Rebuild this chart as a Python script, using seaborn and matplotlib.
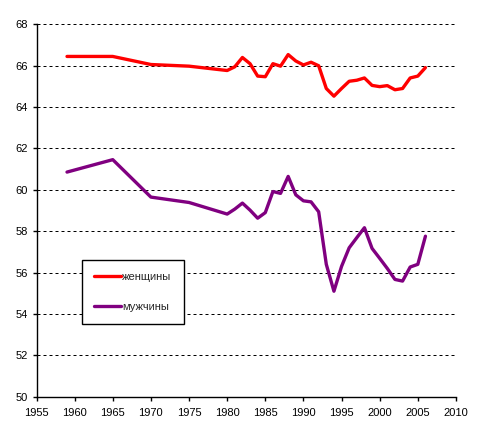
import matplotlib
matplotlib.use("Agg")
import matplotlib.pyplot as plt
import seaborn as sns
import pandas as pd

# years with data (sparse before 1980, yearly after)
years = [1959, 1965, 1970, 1975, 1980, 1981, 1982, 1983, 1984, 1985,
         1986, 1987, 1988, 1989, 1990, 1991, 1992, 1993, 1994, 1995,
         1996, 1997, 1998, 1999, 2000, 2001, 2002, 2003, 2004, 2005, 2006]

women = [66.45, 66.45, 66.06, 65.98, 65.77, 65.95, 66.40, 66.10, 65.50, 65.47,
         66.10, 65.98, 66.54, 66.23, 66.04, 66.17, 66.00, 64.90, 64.53, 64.90,
         65.25, 65.30, 65.41, 65.05, 64.99, 65.04, 64.84, 64.90, 65.41, 65.50, 65.91]

men = [60.86, 61.46, 59.65, 59.39, 58.83, 59.07, 59.36, 59.02, 58.63, 58.90,
       59.92, 59.83, 60.65, 59.76, 59.47, 59.42, 58.94, 56.40, 55.10, 56.30,
       57.20, 57.69, 58.17, 57.17, 56.69, 56.20, 55.67, 55.59, 56.27, 56.40, 57.76]

labels = ["женщины", "мужчины"]
colors = ["#FF0000", "#800080"]

df = pd.concat([
    pd.DataFrame({"year": years, "value": women, "sex": labels[0]}),
    pd.DataFrame({"year": years, "value": men, "sex": labels[1]}),
])

sns.set_style("white")
plt.rcParams['font.family'] = ['Liberation Sans', 'DejaVu Sans']

fig = plt.figure(figsize=(4.9, 4.37), dpi=100)
ax = fig.add_axes([0.0745, 0.0922, 0.856, 0.852])

sns.lineplot(data=df, x="year", y="value", hue="sex",
             palette=dict(zip(labels, colors)), linewidth=2.4, ax=ax)

ax.set_xlim(1955, 2010)
ax.set_ylim(50, 68)
ax.set_xticks(range(1955, 2011, 5))
ax.set_yticks(range(50, 69, 2))
ax.set_xlabel("")
ax.set_ylabel("")

ax.yaxis.grid(True, linestyle=(0, (3, 3)), color="black", linewidth=0.72)
ax.xaxis.grid(False)
ax.set_axisbelow(True)

for s in ["top", "right"]:
    ax.spines[s].set_visible(False)
for s in ["left", "bottom"]:
    ax.spines[s].set_color("black")
    ax.spines[s].set_linewidth(1.0)

ax.tick_params(axis="both", direction="out", length=3, width=1.0,
               color="black", labelsize=8, labelcolor="black",
               bottom=True, left=True, pad=3)
ax.tick_params(axis="x", pad=5)

leg = ax.legend(loc="lower left", bbox_to_anchor=(0.109, 0.195),
                fontsize=8, frameon=True, fancybox=False, framealpha=1,
                edgecolor="black", borderpad=1.1, labelspacing=1.8,
                handlelength=2.4, handletextpad=0.1, borderaxespad=0)
leg.get_frame().set_linewidth(1.0)

fig.savefig("out.png", dpi=100)
